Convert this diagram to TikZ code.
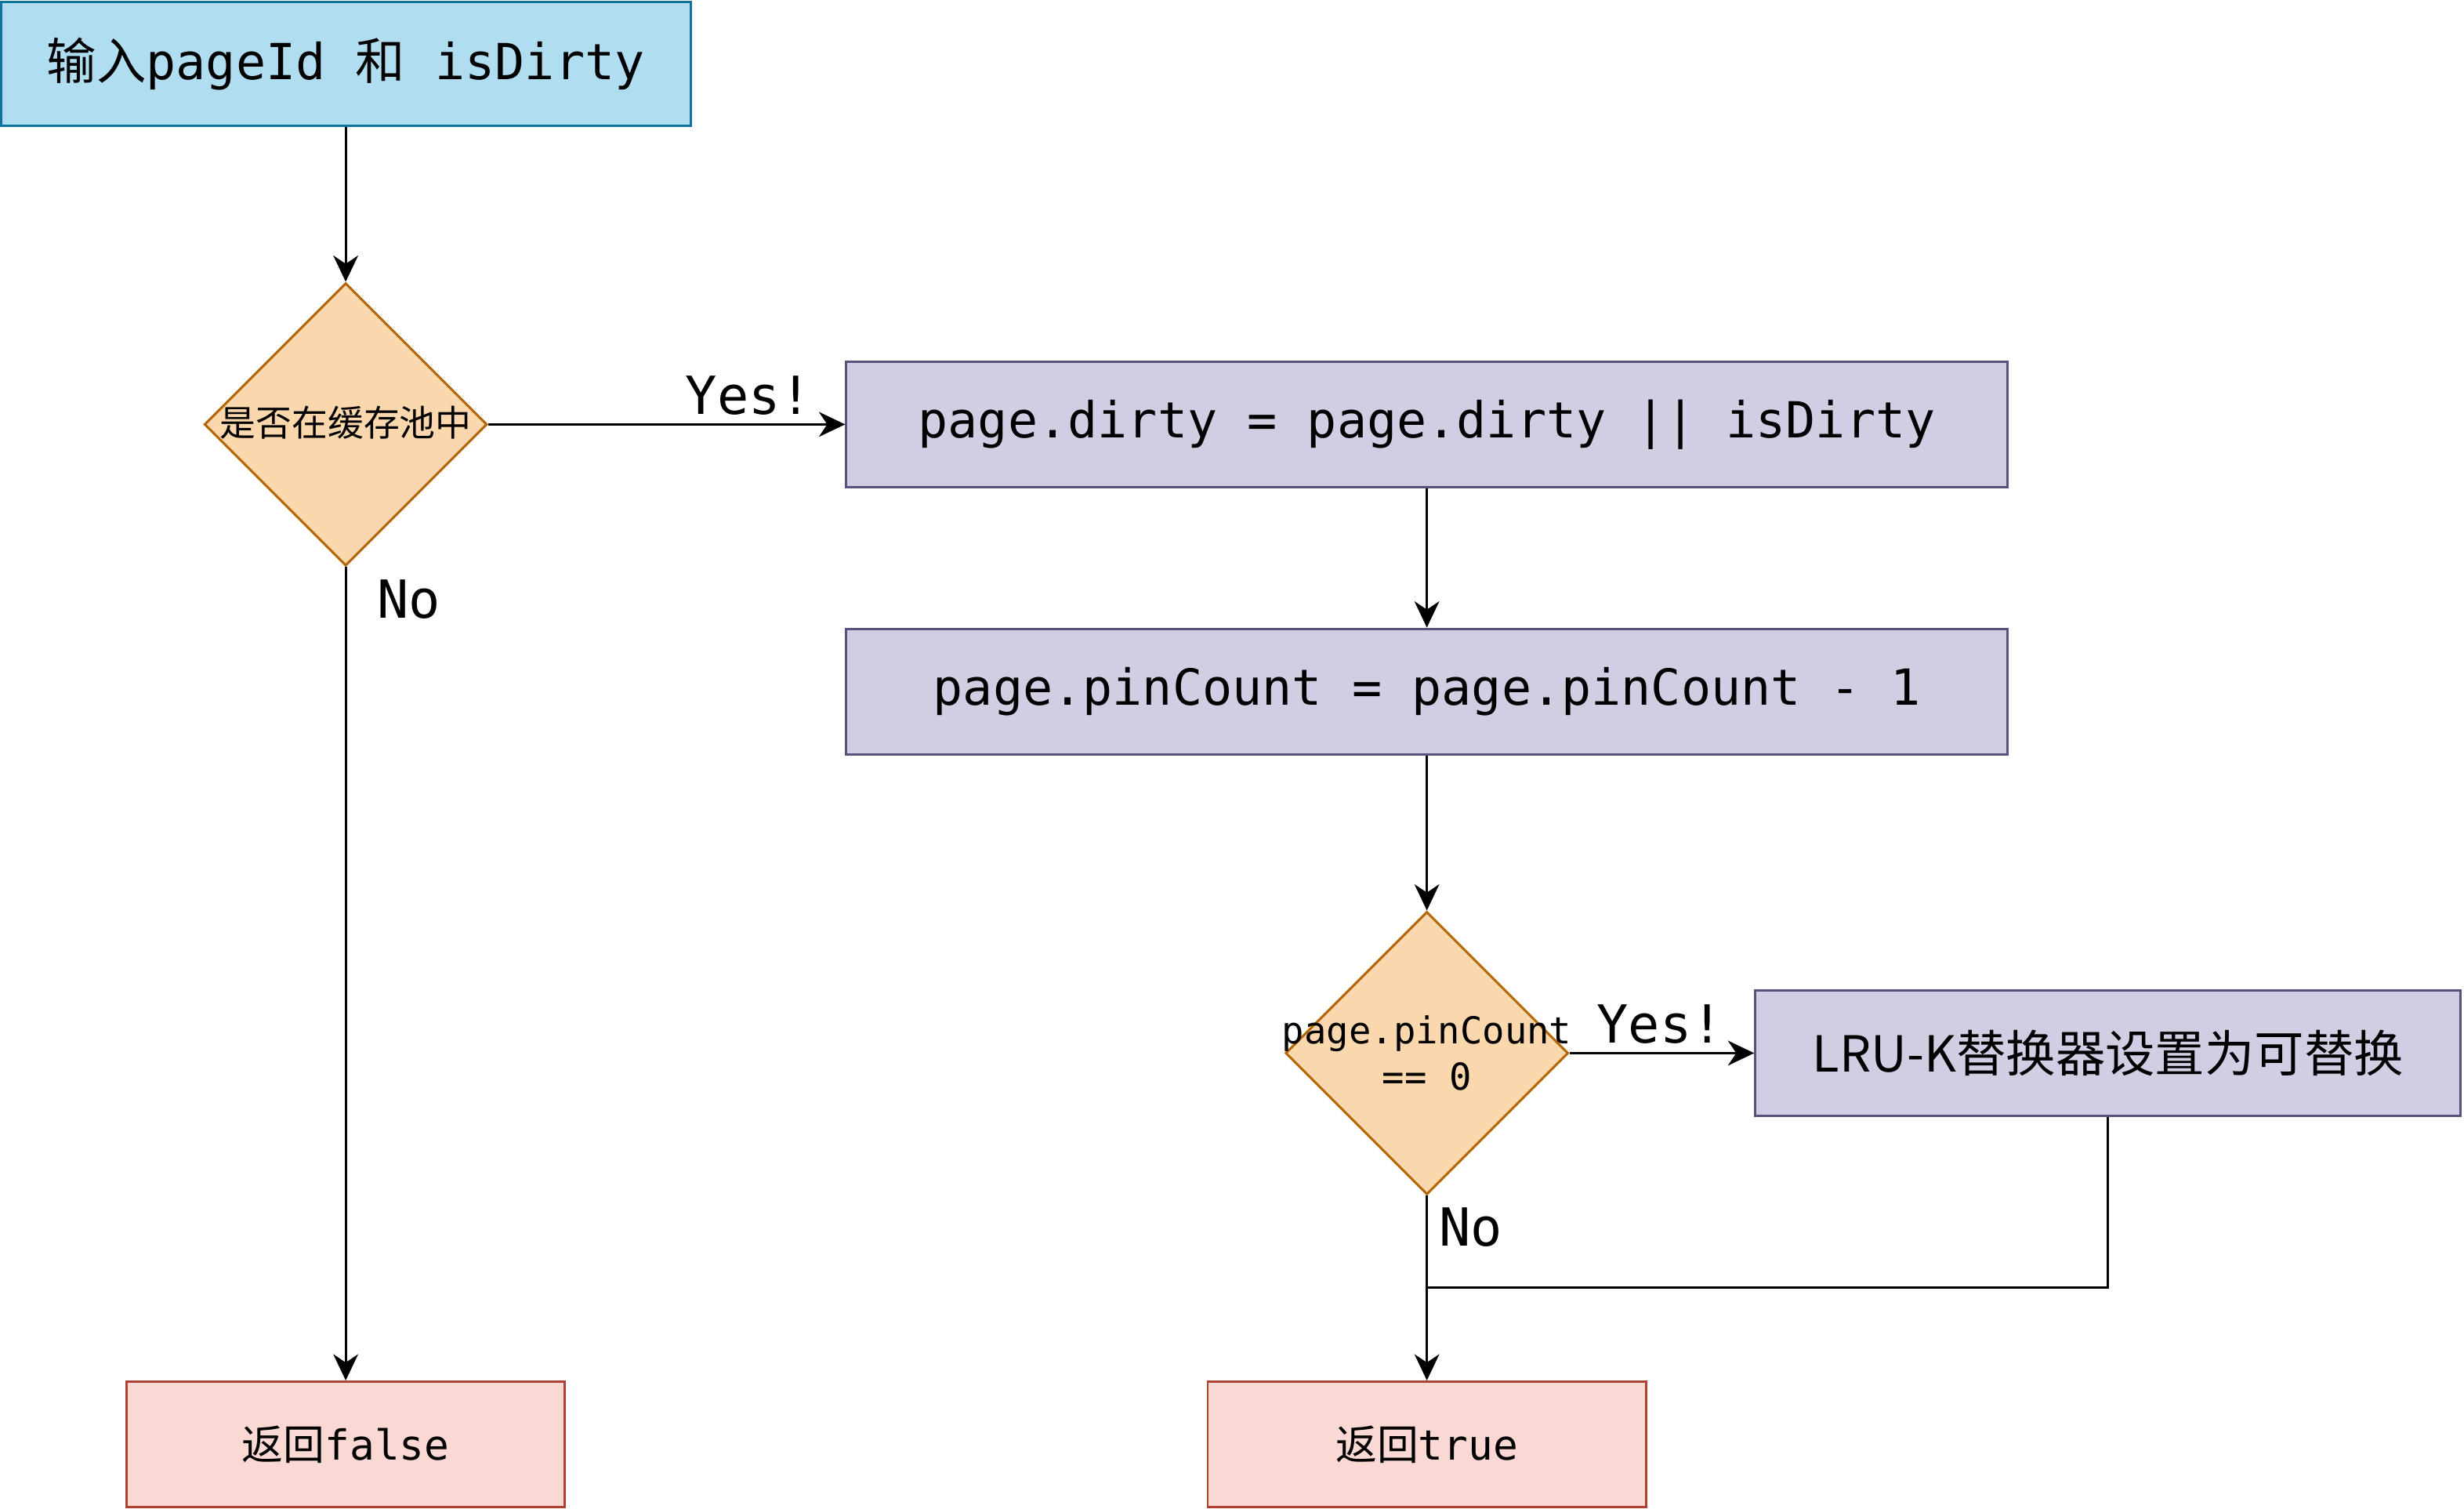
\documentclass[tikz,border=0pt]{standalone}
\usepackage{fontspec}
\setmonofont{DejaVu Sans Mono}
\newfontfamily\cjk{Noto Sans CJK SC}
\usetikzlibrary{shapes.geometric,arrows.meta}
\definecolor{inblue}{HTML}{B1DDF0}
\definecolor{inblueline}{HTML}{10739E}
\definecolor{decfill}{HTML}{FAD7AC}
\definecolor{decline}{HTML}{B46504}
\definecolor{stepfill}{HTML}{D0CEE2}
\definecolor{stepline}{HTML}{56517E}
\definecolor{endfill}{HTML}{FAD9D5}
\definecolor{endline}{HTML}{AE4132}
\begin{document}
\begin{tikzpicture}[x=0.02cm,y=-0.02cm,line width=0.85pt,
  inbox/.style={draw=inblueline,fill=inblue,minimum width=8.78cm,minimum height=1.58cm,
    font=\ttfamily\fontsize{18}{21}\selectfont},
  stepbox/.style={draw=stepline,fill=stepfill,minimum width=14.78cm,minimum height=1.6cm,
    font=\ttfamily\fontsize{18}{21}\selectfont},
  decision/.style={diamond,aspect=1,draw=decline,fill=decfill,inner sep=0pt,
    minimum width=3.6cm,minimum height=3.6cm},
  endbox/.style={draw=endline,fill=endfill,minimum width=5.58cm,minimum height=1.6cm,
    font=\ttfamily\fontsize{15}{18}\selectfont},
  lbl/.style={inner sep=1pt,font=\ttfamily\fontsize{19}{22}\selectfont},
  arr/.style={-{Stealth[length=9.5pt,width=9pt,inset=3pt]}}]
  \useasboundingbox (0,0) rectangle (1568,960);

  % boxes
  \node[inbox] (in) at (220,40.5) {{\cjk 输入}pageId {\cjk 和} isDirty};
  \node[decision] (d1) at (220,270) {};
  \node[font=\cjk\fontsize{13}{15}\selectfont,inner sep=0pt] (d1txt) at (220,269) {是否在缓存池中};
  \node[stepbox] (dirty) at (908,270) {page.dirty = page.dirty || isDirty};
  \node[stepbox] (pin) at (908,440) {page.pinCount = page.pinCount - 1};
  \node[decision] (d2) at (908,670) {};
  \node[align=center,inner sep=0pt,font=\ttfamily\fontsize{13.4}{17}\selectfont] (d2txt) at (908,670) {page.pinCount\\== 0};
  \node[stepbox,minimum width=8.98cm,font=\cjk\fontsize{18}{21}\selectfont] (lru) at (1341.5,670) {LRU-K替换器设置为可替换};
  \node[endbox] (retf) at (220,919) {{\cjk 返回}false};
  \node[endbox] (rett) at (908,919) {{\cjk 返回}true};
  \coordinate (join) at (908,819);

  % arrows
  \draw[arr] (in.south) -- (d1.north);
  \draw[arr] (d1.east) -- node[lbl,pos=0.73,above=2pt] (yes1) {Yes!} (dirty.west);
  \draw[arr] (d1.south) -- node[lbl,pos=0.04,right=10pt] (no1) {No} (retf.north);
  \draw[arr] (dirty.south) -- (pin.north);
  \draw[arr] (pin.south) -- (d2.north);
  \draw[arr] (d2.east) -- node[lbl,pos=0.49,above=2pt] (yes2) {Yes!} (lru.west);
  \draw[arr] (d2.south) -- node[lbl,pos=0.17,right=3pt] (no2) {No} (rett.north);
  \draw (lru.south) |- (join);
\end{tikzpicture}
\end{document}
